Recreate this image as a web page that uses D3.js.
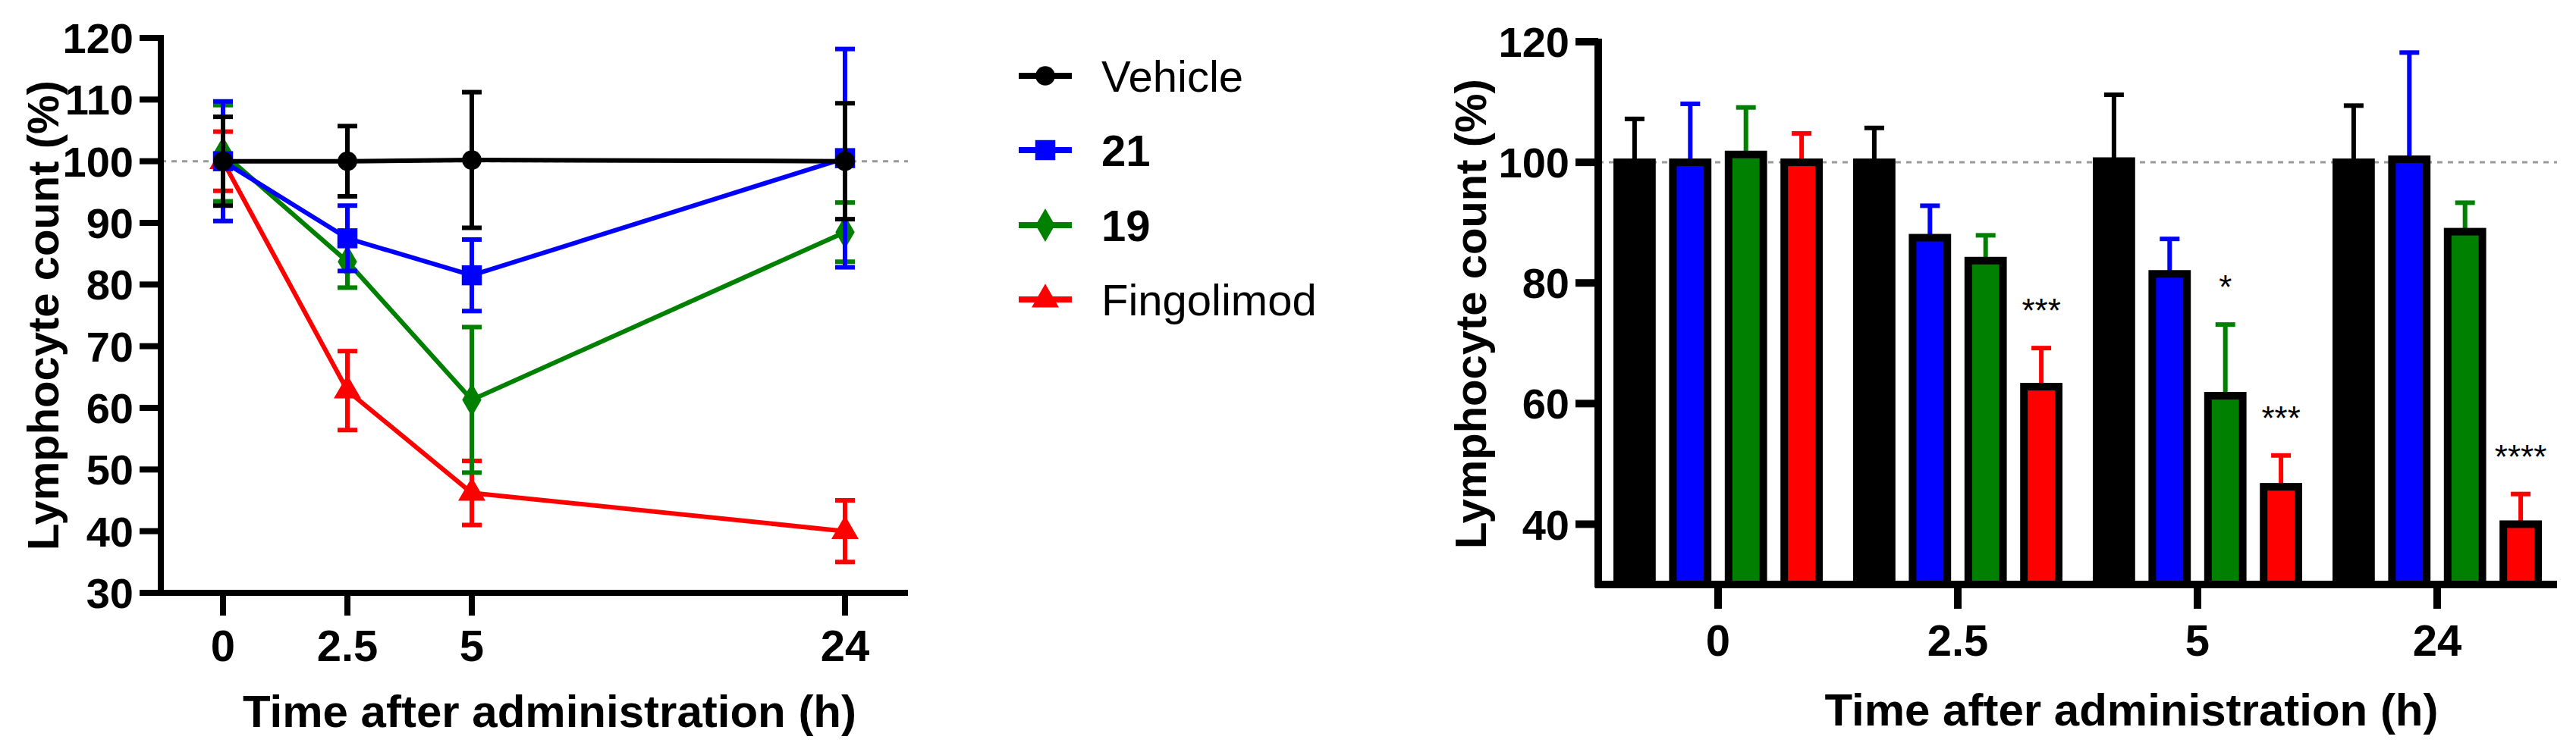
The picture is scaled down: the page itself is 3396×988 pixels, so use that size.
<!DOCTYPE html>
<html>
<head>
<meta charset="utf-8">
<script src="https://cdn.jsdelivr.net/npm/d3@7"></script>
<style>
  body { margin: 0; background: #fff; }
  text { font-family: "Liberation Sans Narrow", "Liberation Sans", Arial, sans-serif; font-weight: bold; }
</style>
</head>
<body>
<svg id="chart" width="3396" height="988"></svg>
<script>
// time points and groups
var times = ["0", "2.5", "5", "24"];
var timePos = [0, 1, 2, 5];
var groups = ["Vehicle", "21", "19", "Fingolimod"];
var colors = ["#000000", "#0000ff", "#008000", "#ff0000"];

// mean lymphocyte count (%) and SD per group
var vehicleMean = [100, 100, 100.2, 100];
var vehicleSD = [7.2, 5.7, 11, 9.4];
var c21Mean = [100, 87.5, 81.5, 100.5];
var c21SD = [9.7, 5.3, 5.8, 17.7];
var c19Mean = [101.3, 83.7, 61.3, 88.5];
var c19SD = [7.8, 4.2, 11.8, 4.8];
var fingoMean = [100, 62.8, 46.2, 40];
var fingoSD = [4.8, 6.4, 5.2, 5];

// significance marks (group index 3 = Fingolimod, 2 = 19)
var stars = [
  { t: 1, g: 3, label: "***" },
  { t: 2, g: 2, label: "*" },
  { t: 2, g: 3, label: "***" },
  { t: 3, g: 3, label: "****" }
];

var means = [vehicleMean, c21Mean, c19Mean, fingoMean];
var sds = [vehicleSD, c21SD, c19SD, fingoSD];

var svg = d3.select("#chart");

// ---------- Left: line chart ----------
var y1 = d3.scaleLinear().domain([30, 120]).range([782, 50]);
var x1 = d3.scaleLinear().domain([0, 1]).range([294, 458]);
var left = 212, right1 = 1197;

svg.append("line").attr("x1", left).attr("x2", right1)
  .attr("y1", y1(100)).attr("y2", y1(100))
  .attr("stroke", "#999").attr("stroke-width", 3).attr("stroke-dasharray", "7,7");

var g1 = svg.append("g");
// y axis
g1.append("line").attr("x1", left).attr("x2", left).attr("y1", y1(120) - 4).attr("y2", y1(30) + 4)
  .attr("stroke", "#000").attr("stroke-width", 8);
g1.append("line").attr("x1", left - 28).attr("x2", right1).attr("y1", y1(30)).attr("y2", y1(30))
  .attr("stroke", "#000").attr("stroke-width", 8);
d3.range(30, 121, 10).forEach(function (v) {
  g1.append("line").attr("x1", left - 28).attr("x2", left).attr("y1", y1(v)).attr("y2", y1(v))
    .attr("stroke", "#000").attr("stroke-width", 8);
  g1.append("text").attr("x", left - 36).attr("y", y1(v)).attr("dy", "0.36em")
    .attr("text-anchor", "end").attr("font-size", 56).text(v);
});
times.forEach(function (t, i) {
  var xx = x1(timePos[i]);
  g1.append("line").attr("x1", xx).attr("x2", xx).attr("y1", y1(30)).attr("y2", 812)
    .attr("stroke", "#000").attr("stroke-width", 8);
  g1.append("text").attr("x", xx).attr("y", 851).attr("dy", "0.36em")
    .attr("text-anchor", "middle").attr("font-size", 58).text(t);
});
g1.append("text").attr("x", (left + right1) / 2 + 20).attr("y", 937).attr("dy", "0.36em")
  .attr("text-anchor", "middle").attr("font-size", 60).text("Time after administration (h)");
g1.append("text").attr("transform", "translate(56," + 416 + ") rotate(-90)").attr("dy", "0.36em")
  .attr("text-anchor", "middle").attr("font-size", 58)
  .style("font-family", "'Liberation Sans', Arial, sans-serif").text("Lymphocyte count (%)");

var symbols = [d3.symbolCircle, d3.symbolSquare, d3.symbolDiamond, d3.symbolTriangle];
var symSize = [520, 700, 560, 560];

function drawSeries(gi) {
  var col = colors[gi];
  var pts = means[gi].map(function (m, i) { return [x1(timePos[i]), y1(m), sds[gi][i]]; });
  // error bars
  pts.forEach(function (p, i) {
    var m = means[gi][i], s = sds[gi][i];
    g1.append("line").attr("x1", p[0]).attr("x2", p[0]).attr("y1", y1(m + s)).attr("y2", y1(m - s))
      .attr("stroke", col).attr("stroke-width", 6);
    [m + s, m - s].forEach(function (v) {
      g1.append("line").attr("x1", p[0] - 13).attr("x2", p[0] + 13).attr("y1", y1(v)).attr("y2", y1(v))
        .attr("stroke", col).attr("stroke-width", 6);
    });
  });
  g1.append("path").datum(pts)
    .attr("d", d3.line().x(function (d) { return d[0]; }).y(function (d) { return d[1]; }))
    .attr("fill", "none").attr("stroke", col).attr("stroke-width", 6);
  pts.forEach(function (p) {
    g1.append("path").attr("transform", "translate(" + p[0] + "," + p[1] + ")")
      .attr("d", d3.symbol().type(symbols[gi]).size(symSize[gi])()).attr("fill", col);
  });
}
[3, 2, 1, 0].forEach(drawSeries);

// legend
var legY = [100, 198, 297, 395];
groups.forEach(function (name, gi) {
  var lg = svg.append("g").attr("transform", "translate(1378," + legY[gi] + ")");
  lg.append("line").attr("x1", -35).attr("x2", 35).attr("stroke", colors[gi]).attr("stroke-width", 8);
  lg.append("path").attr("d", d3.symbol().type(symbols[gi]).size(symSize[gi])()).attr("fill", colors[gi]);
  lg.append("text").attr("x", 74).attr("dy", "0.36em").attr("font-size", 58)
    .style("font-family", "'Liberation Sans', Arial, sans-serif")
    .style("font-weight", (name === "21" || name === "19") ? "bold" : "normal").text(name);
});

// ---------- Right: bar chart ----------
var y2 = d3.scaleLinear().domain([30, 120]).range([771, 55]);
var left2 = 2107, right2 = 3371;
var x2 = d3.scaleBand().domain(times).range([left2, right2]);
var xg = d3.scaleBand().domain(groups).range([-138, 138]).paddingInner(0.24);

svg.append("line").attr("x1", left2).attr("x2", right2)
  .attr("y1", y2(100)).attr("y2", y2(100))
  .attr("stroke", "#999").attr("stroke-width", 3).attr("stroke-dasharray", "7,7");

var g2 = svg.append("g");
times.forEach(function (t, ti) {
  groups.forEach(function (name, gi) {
    var m = means[gi][ti], s = sds[gi][ti];
    var cx = x2(t) + x2.bandwidth() / 2 + xg(name) + xg.bandwidth() / 2;
    g2.append("line").attr("x1", cx).attr("x2", cx).attr("y1", y2(m)).attr("y2", y2(m + s))
      .attr("stroke", colors[gi]).attr("stroke-width", 6);
    g2.append("line").attr("x1", cx - 13).attr("x2", cx + 13).attr("y1", y2(m + s)).attr("y2", y2(m + s))
      .attr("stroke", colors[gi]).attr("stroke-width", 6);
    g2.append("rect").attr("x", cx - xg.bandwidth() / 2 + 5).attr("width", xg.bandwidth() - 10)
      .attr("y", y2(m)).attr("height", y2(30) - y2(m))
      .attr("fill", colors[gi]).attr("stroke", "#000").attr("stroke-width", 10);
  });
});
stars.forEach(function (s) {
  var cx = x2(times[s.t]) + x2.bandwidth() / 2 + xg(groups[s.g]) + xg.bandwidth() / 2;
  var top = means[s.g][s.t] + sds[s.g][s.t];
  g2.append("text").attr("x", cx).attr("y", y2(top + 7) + 22).attr("text-anchor", "middle")
    .attr("font-size", 44).style("font-weight", "normal").text(s.label);
});

g2.append("line").attr("x1", left2).attr("x2", left2).attr("y1", y2(120) - 4).attr("y2", y2(30) + 4)
  .attr("stroke", "#000").attr("stroke-width", 10);
g2.append("line").attr("x1", left2 - 4).attr("x2", right2).attr("y1", y2(30)).attr("y2", y2(30))
  .attr("stroke", "#000").attr("stroke-width", 10);
d3.range(40, 121, 20).forEach(function (v) {
  g2.append("line").attr("x1", left2 - 30).attr("x2", left2).attr("y1", y2(v)).attr("y2", y2(v))
    .attr("stroke", "#000").attr("stroke-width", 10);
  g2.append("text").attr("x", left2 - 38).attr("y", y2(v)).attr("dy", "0.36em")
    .attr("text-anchor", "end").attr("font-size", 56).text(v);
});
times.forEach(function (t) {
  var xx = x2(t) + x2.bandwidth() / 2;
  g2.append("line").attr("x1", xx).attr("x2", xx).attr("y1", y2(30)).attr("y2", 803)
    .attr("stroke", "#000").attr("stroke-width", 10);
  g2.append("text").attr("x", xx).attr("y", 844).attr("dy", "0.36em")
    .attr("text-anchor", "middle").attr("font-size", 58).text(t);
});
g2.append("text").attr("x", 2810).attr("y", 935).attr("dy", "0.36em")
  .attr("text-anchor", "middle").attr("font-size", 60).text("Time after administration (h)");
g2.append("text").attr("transform", "translate(1938,414) rotate(-90)").attr("dy", "0.36em")
  .attr("text-anchor", "middle").attr("font-size", 58)
  .style("font-family", "'Liberation Sans', Arial, sans-serif").text("Lymphocyte count (%)");
</script>
</body>
</html>
